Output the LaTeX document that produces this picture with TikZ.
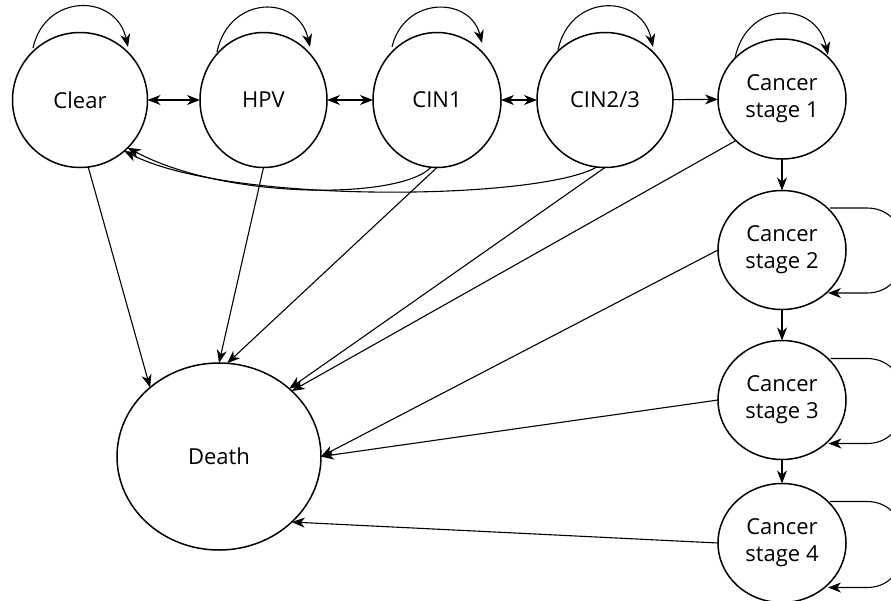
\documentclass[tikz,border=0pt]{standalone}
\usepackage{fontspec}
\setmainfont{Open Sans}
\usetikzlibrary{shapes.geometric,arrows.meta}

\begin{document}
\begin{tikzpicture}[x=1pt,y=-1pt,
  state/.style={ellipse, draw, line width=1.5pt, inner sep=0pt, outer sep=0pt,
    align=center, font=\fontsize{22}{27}\selectfont},
  tip/.tip={Stealth[length=13pt,width=10pt,inset=4pt]},
  link/.style={line width=1.1pt, -tip},
  twoway/.style={line width=1.1pt, tip-tip}]

\useasboundingbox (0,0) rectangle (891,600);
\clip (0,0) rectangle (891,600);

% states
\node[state, minimum width=135pt, minimum height=135pt] (clear) at (80,100) {Clear};
\node[state, minimum width=127pt, minimum height=135pt] (hpv)   at (263.5,100) {HPV};
\node[state, minimum width=128pt, minimum height=135pt] (cin1)  at (437,100) {CIN1};
\node[state, minimum width=136pt, minimum height=135pt] (cin23) at (605,100) {CIN2/3};
\node[state, minimum width=128pt, minimum height=120pt] (cs1)   at (782,99)  {Cancer\\stage 1};
\node[state, minimum width=128pt, minimum height=119pt] (cs2)   at (782,250) {Cancer\\stage 2};
\node[state, minimum width=128pt, minimum height=119pt] (cs3)   at (782,400) {Cancer\\stage 3};
\node[state, minimum width=128pt, minimum height=119pt] (cs4)   at (782,543) {Cancer\\stage 4};
\node[state, minimum width=204pt, minimum height=187pt] (death) at (219,456.5) {Death};

% transitions along the top row
\draw[twoway] (clear) -- (hpv);
\draw[twoway] (hpv) -- (cin1);
\draw[twoway] (cin1) -- (cin23);
\draw[link] (cin23) -- (cs1);

% cancer progression
\draw[link] (cs1) -- (cs2);
\draw[link] (cs2) -- (cs3);
\draw[link] (cs3) -- (cs4);

% self loops above the top row
\draw[link] ([shift={(-47,-52)}]clear.center) .. controls +(12,-55) and +(-12,-54) .. ([shift={(48,-53)}]clear.center);
\draw[link] ([shift={(-46.5,-48)}]hpv.center) .. controls +(12,-57) and +(-12,-53) .. ([shift={(46.5,-53)}]hpv.center);
\draw[link] ([shift={(-45,-53)}]cin1.center) .. controls +(12,-51) and +(-12,-47) .. ([shift={(45,-57)}]cin1.center);
\draw[link] ([shift={(-47,-50)}]cin23.center) .. controls +(12,-57) and +(-12,-54) .. ([shift={(48,-53)}]cin23.center);
\draw[link] ([shift={(-47,-41)}]cs1.center) .. controls +(12,-58) and +(-12,-55) .. ([shift={(46,-44)}]cs1.center);

% self loops on the right of the cancer stages
\draw[link] ([shift={(48,-42)}]cs2.center) -- ++(37,0) .. controls +(50,0) and +(50,0) .. ++(0,85) -- ([shift={(46,43)}]cs2.center);
\draw[link] ([shift={(48.5,-41.5)}]cs3.center) -- ++(36.5,0) .. controls +(50,0) and +(50,0) .. ++(0,85) -- ([shift={(46.5,43.5)}]cs3.center);
\draw[link] ([shift={(48,-41.5)}]cs4.center) -- ++(37,0) .. controls +(50,0) and +(50,0) .. ++(0,86) -- ([shift={(46,44.5)}]cs4.center);

% regression back to Clear
\draw[link] (cin1.-95) .. controls (400,200) and (225,200) .. (clear.-45);
\draw[link] (cin23.-97) .. controls (540,200) and (230,205) .. (clear.-49);

% mortality
\draw[link] (clear.-83) -- (death.135);
\draw[link] (hpv.south) -- (death.90);
\draw[link] (cin1.south) -- (death.85);
\draw[link] (cin23.south) -- (death.44);
\draw[link] (cs1.222) -- (death.42);
\draw[link] (cs2.180) -- (death.0);
\draw[link] (cs3.180) -- (death.0);
\draw[link] (cs4.180) -- (death.-42);

\end{tikzpicture}
\end{document}
